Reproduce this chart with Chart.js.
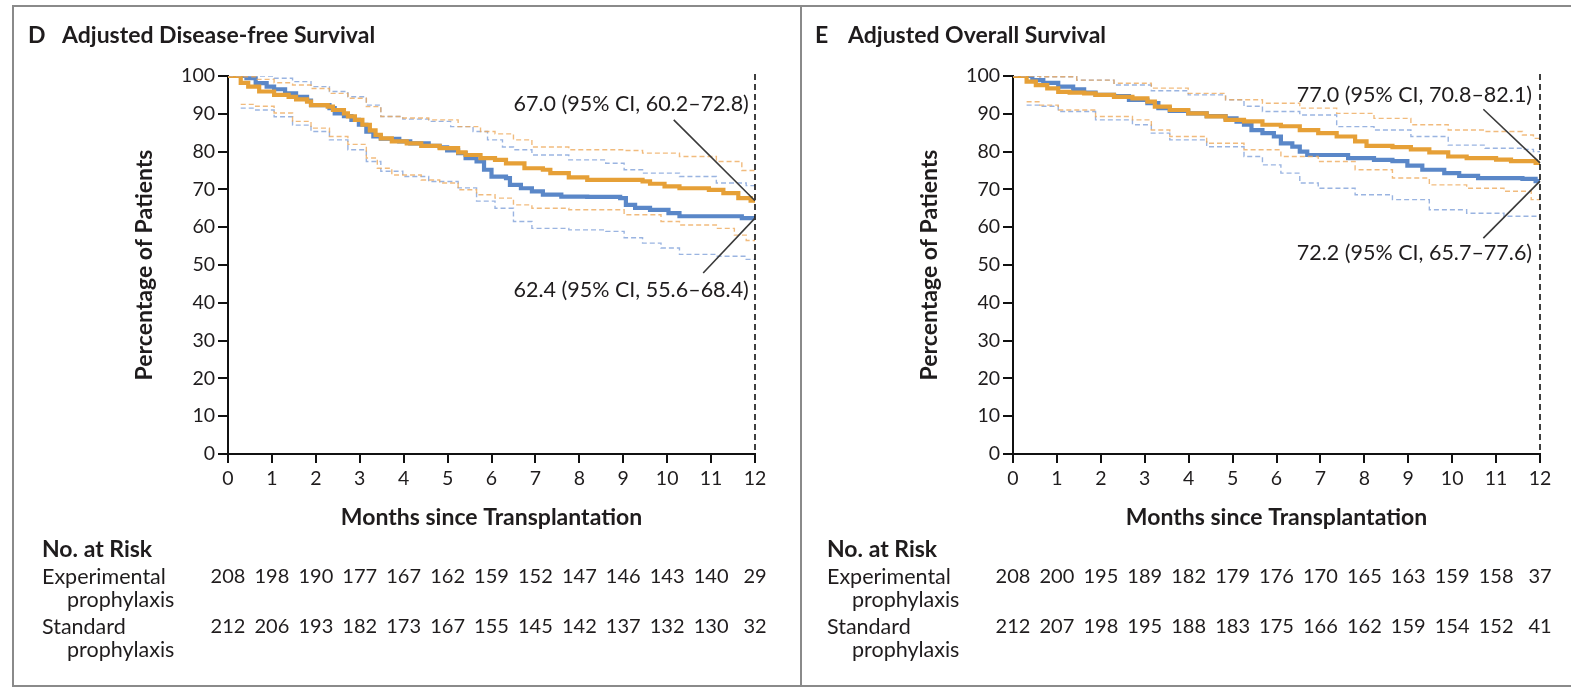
<!DOCTYPE html>
<html>
<head>
<meta charset="utf-8">
<script src="https://cdn.jsdelivr.net/npm/chart.js@4.4.1/dist/chart.umd.min.js"></script>
<style>
  html, body { margin: 0; padding: 0; background: #fff; }
  body { width: 1571px; height: 689px; position: relative; overflow: hidden; }
  #frame { position: absolute; left: 12px; top: 5px; width: 1600px; height: 682px;
           border: 2px solid #8a8a8a; box-sizing: border-box; }
  #divider { position: absolute; left: 800px; top: 5px; width: 2px; height: 682px; background: #8a8a8a; }
  canvas { position: absolute; top: 0; }
  #chartD { left: 0; }
  #chartE { left: 785px; }
</style>
</head>
<body>
<div id="frame"></div>
<div id="divider"></div>
<canvas id="chartD" width="800" height="689"></canvas>
<canvas id="chartE" width="786" height="689"></canvas>
<script>
// Month ticks and number-at-risk rows
const monthTicks = [0, 1, 2, 3, 4, 5, 6, 7, 8, 9, 10, 11, 12];
const percentTicks = [0, 10, 20, 30, 40, 50, 60, 70, 80, 90, 100];

const riskDfsExperimental = [208, 198, 190, 177, 167, 162, 159, 152, 147, 146, 143, 140, 29];
const riskDfsStandard     = [212, 206, 193, 182, 173, 167, 155, 145, 142, 137, 132, 130, 32];
const riskOsExperimental  = [208, 200, 195, 189, 182, 179, 176, 170, 165, 163, 159, 158, 37];
const riskOsStandard      = [212, 207, 198, 195, 188, 183, 175, 166, 162, 159, 154, 152, 41];

// Adjusted disease-free survival, [month, percent]
const dfsExperimental = [[0,100],[0.29,98.2],[0.46,97.2],[0.71,95.9],[1.05,95.0],[1.38,94.5],[1.55,93.8],[1.80,93.2],[1.89,92.3],[2.27,91.9],[2.39,91.0],[2.64,90.1],[2.73,89.3],[2.89,88.4],[3.06,87.1],[3.23,85.6],[3.36,84.4],[3.48,83.5],[3.73,82.7],[4.07,82.2],[4.40,81.5],[4.82,80.9],[5.24,79.8],[5.41,79.1],[5.75,78.3],[6.08,77.8],[6.33,76.9],[6.75,75.6],[7.17,75.2],[7.34,74.3],[7.76,73.2],[8.18,72.5],[9.44,72.1],[9.61,71.5],[9.94,70.8],[10.28,70.3],[10.95,69.9],[11.28,69.0],[11.62,67.7],[11.90,67.0],[12,67.0]];
const dfsExperimentalUpper = [[0,100],[0.29,99.8],[0.63,99.1],[1.05,98.2],[1.47,97.6],[1.89,96.7],[2.31,95.4],[2.73,94.1],[3.15,91.9],[3.48,89.3],[3.98,88.9],[4.57,88.4],[5.24,86.6],[5.75,85.3],[6.08,84.7],[6.50,83.1],[6.92,81.2],[7.76,80.5],[9.02,80.3],[9.44,79.6],[10.28,78.7],[11.12,77.4],[11.70,75.0],[12,75.0]];
const dfsExperimentalLower = [[0.29,92.5],[0.63,92.0],[1.05,90.2],[1.47,88.0],[1.89,86.2],[2.31,84.0],[2.73,81.9],[3.15,78.3],[3.40,75.6],[3.73,73.8],[4.40,72.5],[4.82,71.7],[5.24,69.9],[5.66,68.6],[6.08,67.7],[6.50,65.9],[6.92,65.0],[7.76,64.6],[9.02,63.3],[9.86,61.5],[10.28,60.6],[11.12,59.7],[11.53,57.9],[11.80,56.5],[12,56.5]];
const dfsStandard = [[0,100],[0.42,99.4],[0.63,98.1],[0.88,97.2],[1.05,96.5],[1.30,95.4],[1.55,94.5],[1.80,93.5],[1.89,92.3],[2.31,91.5],[2.43,90.1],[2.64,89.4],[2.81,88.4],[2.98,87.1],[3.15,85.3],[3.31,84.0],[3.48,83.4],[3.90,82.7],[4.15,82.2],[4.57,81.5],[4.82,81.1],[4.99,80.3],[5.24,79.6],[5.41,78.3],[5.66,77.4],[5.83,75.2],[6.00,73.4],[6.33,73.0],[6.42,71.2],[6.67,70.3],[6.92,69.5],[7.17,68.6],[7.59,68.1],[8.18,68.0],[8.93,67.7],[9.06,65.9],[9.27,65.1],[9.61,64.6],[10.03,63.7],[10.28,62.9],[11.70,62.4],[12,62.4]];
const dfsStandardUpper = [[0,100],[0.63,100],[1.05,99.4],[1.47,98.5],[1.89,97.2],[2.31,95.9],[2.73,94.5],[3.15,92.3],[3.48,89.3],[3.98,88.6],[4.57,88.0],[5.07,86.6],[5.58,85.3],[5.91,83.1],[6.25,81.2],[6.50,80.5],[6.92,79.1],[7.76,77.8],[8.60,76.9],[9.02,75.2],[9.44,74.3],[10.28,73.4],[11.12,71.7],[11.80,71.0],[12,71.0]];
const dfsStandardLower = [[0.29,91.5],[0.63,91.0],[1.05,89.2],[1.47,87.0],[1.89,85.3],[2.31,83.1],[2.73,80.5],[3.15,77.4],[3.48,74.8],[3.98,73.4],[4.57,72.1],[5.24,70.4],[5.66,66.9],[6.08,65.0],[6.50,61.5],[6.92,59.7],[7.76,59.3],[8.60,58.9],[9.02,57.2],[9.44,55.8],[9.86,54.5],[10.28,52.8],[11.12,52.3],[11.80,51.5],[12,51.5]];

// Adjusted overall survival, [month, percent]
const osExperimental = [[0,100],[0.31,98.5],[0.52,97.6],[0.78,96.7],[1.03,95.8],[1.29,95.6],[1.62,95.4],[1.88,95.0],[2.30,94.5],[2.72,94.1],[3.06,93.2],[3.23,91.9],[3.57,91.0],[3.99,90.1],[4.41,89.3],[4.84,88.4],[5.26,88.0],[5.68,87.1],[6.10,86.7],[6.53,85.7],[6.95,84.9],[7.37,84.0],[7.79,82.7],[8.05,81.5],[8.64,81.2],[9.06,80.6],[9.48,79.8],[9.91,78.7],[10.33,78.3],[11.00,77.9],[11.34,77.5],[11.90,77.0],[12,77.0]];
const osExperimentalUpper = [[0,100],[0.61,99.8],[1.45,98.9],[2.30,98.1],[3.15,96.8],[3.99,95.4],[4.84,93.7],[5.68,92.8],[6.53,91.5],[7.37,90.1],[8.22,88.8],[9.06,87.1],[9.91,85.7],[10.75,85.3],[11.60,84.4],[11.85,83.5],[12,83.5]];
const osExperimentalLower = [[0.31,93.2],[0.61,92.3],[1.03,91.0],[1.88,89.3],[2.72,88.4],[3.15,85.7],[3.57,84.0],[4.41,82.2],[5.26,80.5],[6.10,78.7],[6.95,77.4],[7.79,75.2],[8.64,73.0],[9.48,71.2],[10.33,70.3],[11.18,69.5],[11.80,67.3],[12,67.3]];
const osStandard = [[0,100],[0.44,98.9],[0.69,98.2],[1.03,97.2],[1.37,96.5],[1.62,95.6],[1.88,95.0],[2.30,94.7],[2.64,93.7],[3.06,92.8],[3.31,91.5],[3.57,90.8],[3.99,90.1],[4.41,89.4],[4.84,88.8],[5.09,87.9],[5.26,87.1],[5.43,85.7],[5.68,84.9],[5.94,84.0],[6.10,82.2],[6.36,81.3],[6.53,80.0],[6.70,79.1],[7.37,79.1],[7.63,78.3],[8.22,77.8],[8.64,77.5],[8.98,76.3],[9.32,75.2],[9.82,74.3],[10.16,73.6],[10.59,73.0],[11.60,72.8],[11.90,72.2],[12,72.2]];
const osStandardUpper = [[0,100],[0.61,99.8],[1.45,98.9],[2.30,97.6],[3.15,96.1],[3.99,95.0],[4.84,93.7],[5.26,92.0],[5.68,90.6],[6.53,89.7],[7.37,86.6],[8.22,85.7],[9.06,84.0],[9.91,81.7],[10.75,80.9],[11.60,80.6],[11.85,80.0],[12,80.0]];
const osStandardLower = [[0.31,92.3],[0.61,92.0],[1.03,90.6],[1.88,88.4],[2.72,87.1],[3.15,84.9],[3.57,83.1],[4.41,81.3],[5.26,78.7],[5.68,76.5],[6.10,74.3],[6.53,71.7],[6.95,70.3],[7.79,68.6],[8.64,67.3],[9.48,64.6],[10.33,63.7],[11.18,62.9],[12,62.9]];

const FONT = 'Lato, "Open Sans", "DejaVu Sans", sans-serif';
const INK = '#1f1c1d';
const ORANGE = '#e6a037';
const BLUE = '#5a87c8';
const ORANGE_CI = 'rgba(238,170,92,0.8)';
const BLUE_CI = 'rgba(120,155,215,0.75)';

Chart.defaults.font.family = FONT;
Chart.defaults.color = INK;

const toPoints = pairs => pairs.map(([x, y]) => ({ x, y }));

function curve(pairs, color, width, dashed) {
  return {
    data: toPoints(pairs),
    borderColor: color,
    borderWidth: width,
    borderDash: dashed ? [5, 3] : [],
    stepped: 'before',
    pointRadius: 0,
    fill: false,
    tension: 0
  };
}

// Panel title, 12-month reference line, callouts and number-at-risk table
const panelExtras = {
  id: 'panelExtras',
  afterDraw(chart, args, opts) {
    const { ctx, chartArea } = chart;
    const xs = chart.scales.x, ys = chart.scales.y;
    ctx.save();

    // Panel heading
    ctx.fillStyle = INK;
    ctx.textBaseline = 'alphabetic';
    ctx.textAlign = 'left';
    ctx.font = 'bold 23px ' + FONT;
    ctx.fillText(opts.letter, opts.letterX, 43);
    ctx.fillText(opts.heading, opts.headingX, 43);

    // Dashed line at 12 months
    const x12 = xs.getPixelForValue(12);
    ctx.strokeStyle = '#111';
    ctx.lineWidth = 1.6;
    ctx.setLineDash([6, 4]);
    ctx.beginPath();
    ctx.moveTo(x12, chartArea.top - 2);
    ctx.lineTo(x12, chartArea.bottom);
    ctx.stroke();
    ctx.setLineDash([]);

    // Callouts
    ctx.font = '21.5px ' + FONT;
    ctx.textBaseline = 'middle';
    ctx.textAlign = 'right';
    for (const c of opts.callouts) {
      ctx.fillStyle = INK;
      ctx.fillText(c.text, xs.getPixelForValue(c.tx), ys.getPixelForValue(c.ty));
      ctx.strokeStyle = '#3a3a3a';
      ctx.lineWidth = 1.6;
      ctx.beginPath();
      ctx.moveTo(xs.getPixelForValue(c.from[0]), ys.getPixelForValue(c.from[1]));
      ctx.lineTo(xs.getPixelForValue(c.to[0]), ys.getPixelForValue(c.to[1]));
      ctx.stroke();
    }

    // Number at risk
    ctx.fillStyle = INK;
    ctx.textAlign = 'left';
    ctx.font = 'bold 23px ' + FONT;
    ctx.fillText('No. at Risk', 42, 550);
    ctx.font = '21.5px ' + FONT;
    ctx.fillText('Experimental', 42, 577);
    ctx.fillText('prophylaxis', 67, 600);
    ctx.fillText('Standard', 42, 627);
    ctx.fillText('prophylaxis', 67, 650);
    ctx.font = '20px ' + FONT;
    ctx.textAlign = 'center';
    monthTicks.forEach((m, i) => {
      const px = xs.getPixelForValue(m);
      ctx.fillText(String(opts.riskTop[i]), px, 577);
      ctx.fillText(String(opts.riskBottom[i]), px, 627);
    });
    ctx.restore();
  }
};

function makeChart(id, paddingRight, series, extras) {
  const datasets = [
    curve(series.expUpper, ORANGE_CI, 1.4, true),
    curve(series.expLower, ORANGE_CI, 1.4, true),
    curve(series.stdUpper, BLUE_CI, 1.4, true),
    curve(series.stdLower, BLUE_CI, 1.4, true),
    curve(series.exp, ORANGE, 4.2, false),
    curve(series.std, BLUE, 4.2, false)
  ];
  return new Chart(document.getElementById(id), {
    type: 'line',
    data: { datasets },
    plugins: [panelExtras],
    options: {
      responsive: false,
      animation: false,
      devicePixelRatio: 1,
      layout: { padding: { left: 127, right: paddingRight, top: 76, bottom: 154 } },
      plugins: {
        legend: { display: false },
        tooltip: { enabled: false },
        panelExtras: extras
      },
      scales: {
        x: {
          type: 'linear',
          min: 0, max: 12,
          afterBuildTicks: s => { s.ticks = monthTicks.map(v => ({ value: v })); },
          afterFit: s => { s.height = 81; },
          ticks: { font: { size: 19.5 }, padding: 4, color: INK, maxRotation: 0 },
          grid: { drawOnChartArea: false, drawTicks: true, tickLength: 9, color: '#111', lineWidth: 2 },
          border: { display: true, color: '#111', width: 2 },
          title: { display: true, text: 'Months since Transplantation', color: INK,
                   font: { size: 23, weight: 'bold' }, padding: { top: 4, bottom: 4 } }
        },
        y: {
          type: 'linear',
          min: 0, max: 100,
          afterBuildTicks: s => { s.ticks = percentTicks.map(v => ({ value: v })); },
          afterFit: s => { s.width = 101; },
          ticks: { font: { size: 19.5 }, padding: 3, color: INK },
          grid: { drawOnChartArea: false, drawTicks: true, tickLength: 10, color: '#111', lineWidth: 2 },
          border: { display: true, color: '#111', width: 2 },
          title: { display: true, text: 'Percentage of Patients', color: INK,
                   font: { size: 23, weight: 'bold' }, padding: { top: 4, bottom: 4 } }
        }
      }
    }
  });
}

makeChart('chartD', 45, {
  exp: dfsExperimental, expUpper: dfsExperimentalUpper, expLower: dfsExperimentalLower,
  std: dfsStandard, stdUpper: dfsStandardUpper, stdLower: dfsStandardLower
}, {
  letter: 'D', letterX: 28, heading: 'Adjusted Disease-free Survival', headingX: 62,
  riskTop: riskDfsExperimental, riskBottom: riskDfsStandard,
  callouts: [
    { text: '67.0 (95% CI, 60.2\u201372.8)', tx: 11.86, ty: 92.6, from: [10.15, 88.4], to: [12, 67.0] },
    { text: '62.4 (95% CI, 55.6\u201368.4)', tx: 11.86, ty: 43.3, from: [10.82, 47.9], to: [12, 62.4] }
  ]
});

makeChart('chartE', 31, {
  exp: osExperimental, expUpper: osExperimentalUpper, expLower: osExperimentalLower,
  std: osStandard, stdUpper: osStandardUpper, stdLower: osStandardLower
}, {
  letter: 'E', letterX: 30, heading: 'Adjusted Overall Survival', headingX: 63,
  riskTop: riskOsExperimental, riskBottom: riskOsStandard,
  callouts: [
    { text: '77.0 (95% CI, 70.8\u201382.1)', tx: 11.82, ty: 95.0, from: [10.71, 91.2], to: [12, 77.0] },
    { text: '72.2 (95% CI, 65.7\u201377.6)', tx: 11.82, ty: 53.2, from: [10.71, 57.1], to: [12, 72.2] }
  ]
});
</script>
</body>
</html>
